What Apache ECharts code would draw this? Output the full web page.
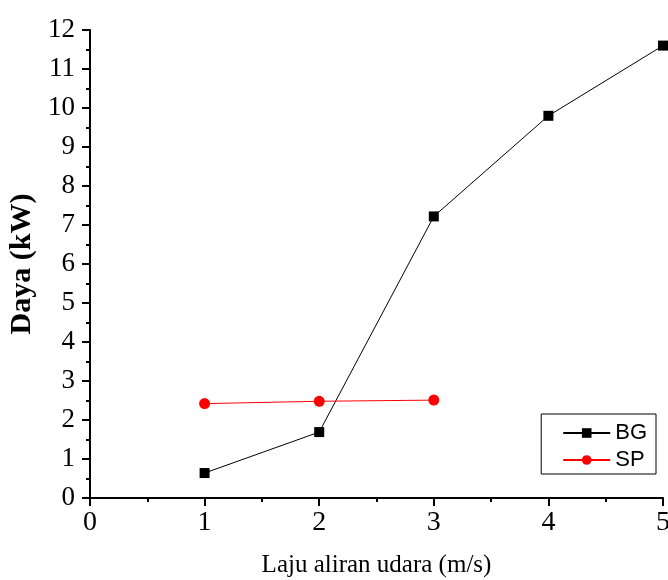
<!DOCTYPE html>
<html><head><meta charset="utf-8">
<script src="https://cdn.jsdelivr.net/npm/echarts@6/dist/echarts.min.js"></script>
<style>html,body{margin:0;padding:0;background:#fff}#c{width:668px;height:580px}</style>
</head><body><div id="c"></div>
<script>
const xValues = [1, 2, 3, 4, 5];
const bgValues = [0.64, 1.69, 7.22, 9.8, 11.6];
const spX = [1, 2, 3];
const spValues = [2.42, 2.48, 2.51];
const xName = 'Laju aliran udara (m/s)';
const yName = 'Daya (kW)';

const chart = echarts.init(document.getElementById('c'));
const serif = '"Liberation Serif", "Times New Roman", serif';
chart.setOption({
  animation: false,
  grid: {left: 90, right: 5, top: 30, bottom: 82, containLabel: false, outerBoundsMode: 'none'},
  legend: {
    orient: 'vertical', right: 12, top: 414,
    borderColor: '#000', borderWidth: 1, padding: [8, 9, 3, 21],
    itemWidth: 47, itemHeight: 12, itemGap: 5,
    textStyle: {fontFamily: '"Liberation Sans", Arial, sans-serif', fontSize: 22, color: '#000', lineHeight: 22},
    data: ['BG', 'SP']
  },
  xAxis: {
    type: 'value', min: 0, max: 5, interval: 1,
    name: xName, nameLocation: 'middle', nameGap: 55,
    nameTextStyle: {fontFamily: serif, fontSize: 25, color: '#000'},
    axisLine: {show: true, onZero: false, lineStyle: {color: '#000', width: 2}},
    axisTick: {show: true, length: 8, lineStyle: {width: 2, color: '#000'}},
    minorTick: {show: true, splitNumber: 2, length: 4, lineStyle: {width: 2, color: '#000'}},
    axisLabel: {fontFamily: serif, fontSize: 28, color: '#000', margin: 11},
    splitLine: {show: false}
  },
  yAxis: {
    type: 'value', min: 0, max: 12, interval: 1,
    name: yName, nameLocation: 'middle', nameGap: 49,
    nameTextStyle: {fontFamily: serif, fontSize: 30, fontWeight: 'bold', color: '#000'},
    axisLine: {show: true, lineStyle: {color: '#000', width: 2}},
    axisTick: {show: true, length: 8, lineStyle: {width: 2, color: '#000'}},
    minorTick: {show: true, splitNumber: 2, length: 4, lineStyle: {width: 2, color: '#000'}},
    axisLabel: {fontFamily: serif, fontSize: 27, color: '#000', margin: 15},
    splitLine: {show: false}
  },
  series: [
    {name: 'BG', type: 'line', data: xValues.map((x, i) => [x, bgValues[i]]),
     symbol: 'rect', symbolSize: 10, clip: false,
     itemStyle: {color: '#000'}, lineStyle: {color: '#000', width: 1}},
    {name: 'SP', type: 'line', data: spX.map((x, i) => [x, spValues[i]]),
     symbol: 'circle', symbolSize: 11, clip: false,
     itemStyle: {color: '#ff0000'}, lineStyle: {color: '#ff0000', width: 1}}
  ]
});
</script></body></html>
